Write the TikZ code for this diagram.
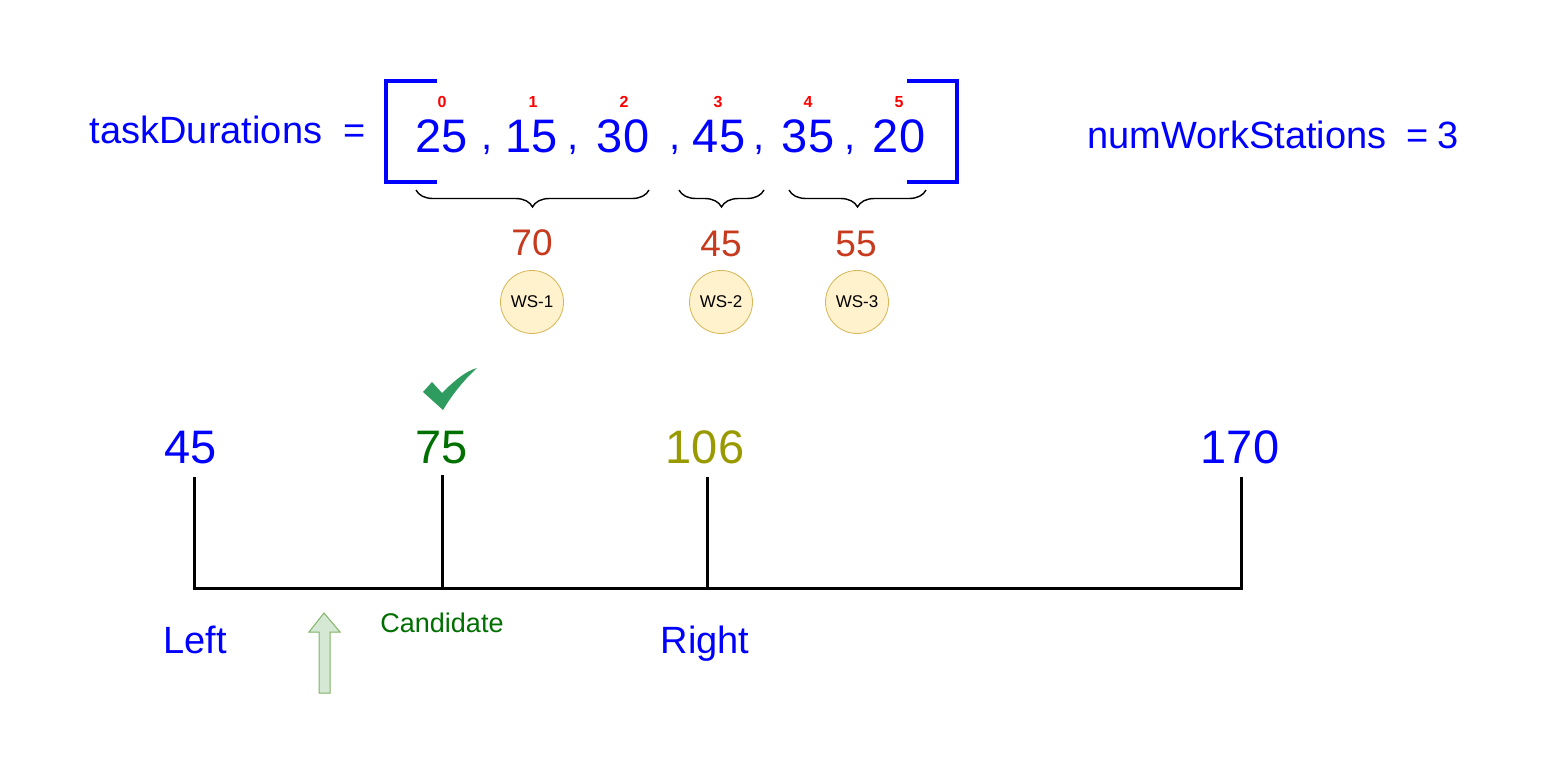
\documentclass[tikz,border=0pt]{standalone}
\usepackage{fontspec}
\setmainfont{Liberation Sans}
\usetikzlibrary{decorations.pathreplacing}
\definecolor{myblue}{HTML}{0000FF}
\definecolor{sumred}{HTML}{C73A1E}
\definecolor{candgreen}{HTML}{007000}
\definecolor{olive}{HTML}{999900}
\definecolor{checkgreen}{HTML}{2E9B5F}
\definecolor{wsfill}{HTML}{FFF2CC}
\definecolor{wsdraw}{HTML}{D6B656}
\definecolor{arrfill}{HTML}{D5E8D4}
\definecolor{arrdraw}{HTML}{82B366}
\tikzset{
  lbl/.style={inner sep=0pt, anchor=base, text=myblue, font=\fontsize{38}{42}\selectfont},
  bignum/.style={inner sep=0pt, anchor=base, text=myblue, font=\fontsize{47}{50}\selectfont},
  commatxt/.style={inner sep=0pt, anchor=base, text=myblue, font=\fontsize{40}{44}\selectfont},
  idx/.style={inner sep=0pt, anchor=base, text=red, font=\fontsize{16}{18}\selectfont\bfseries},
  sumtxt/.style={inner sep=0pt, anchor=base, text=sumred, font=\fontsize{37}{40}\selectfont},
  wscircle/.style={circle, draw=wsdraw, fill=wsfill, line width=0.8pt, minimum size=63pt, inner sep=0pt, font=\fontsize{17}{19}\selectfont},
  bracketline/.style={draw=myblue, line width=4pt},
  bracestyle/.style={draw=black, line width=1.4pt, decorate, decoration={brace, mirror, amplitude=17pt}},
  treeline/.style={draw=black, line width=3pt},
}
\begin{document}
\begin{tikzpicture}[x=1pt, y=-1pt]
\useasboundingbox (0,0) rectangle (1542,770);
\fill[white] (0,0) rectangle (1542,770);

% top line
\node[lbl] (td) at (206,144) {taskDurations};
\node[lbl] (eq1) at (355,144) {=};
\node[lbl, anchor=base west] (nws) at (1087,149) {numWorkStations};
\node[lbl] (eq2) at (1418,149) {=};
\node[lbl] (nws3) at (1448,149) {3};

% brackets
\draw[bracketline] (437,81) -- (386,81) -- (386,182) -- (437,182);
\draw[bracketline] (907,81) -- (957,81) -- (957,182) -- (907,182);

% digits
\node[bignum] (d0) at (442,153) {25};
\node[bignum] (d1) at (532,153) {15};
\node[bignum] (d2) at (623,153) {30};
\node[bignum] (d3) at (719,153) {45};
\node[bignum] (d4) at (808,153) {35};
\node[bignum] (d5) at (899,153) {20};
\node[commatxt] (c1) at (487,150) {,};
\node[commatxt] (c2) at (573,150) {,};
\node[commatxt] (c3) at (675,150) {,};
\node[commatxt] (c4) at (759,150) {,};
\node[commatxt] (c5) at (850,150) {,};
% indices
\node[idx] (i0) at (442,108) {0};
\node[idx] (i1) at (533,108) {1};
\node[idx] (i2) at (624,108) {2};
\node[idx] (i3) at (718,108) {3};
\node[idx] (i4) at (808,108) {4};
\node[idx] (i5) at (899,108) {5};

% braces
\coordinate (b1l) at (416,190); \coordinate (b1r) at (649,190);
\coordinate (b2l) at (679,190); \coordinate (b2r) at (764,190);
\coordinate (b3l) at (789,190); \coordinate (b3r) at (926,190);
\draw[bracestyle] (b1l) -- (b1r);
\draw[bracestyle] (b2l) -- (b2r);
\draw[bracestyle] (b3l) -- (b3r);

% sums
\node[sumtxt] (s1) at (532,255) {70};
\node[sumtxt] (s2) at (721,256) {45};
\node[sumtxt] (s3) at (856,256) {55};

% work stations
\node[wscircle] (ws1) at (532,302) {WS-1};
\node[wscircle] (ws2) at (721,302) {WS-2};
\node[wscircle] (ws3) at (857,302) {WS-3};

% check mark
\fill[checkgreen] (423,392) -- (432,382) -- (442,393) .. controls (455,380) and (466,371) .. (477,368) .. controls (466,378) and (453,393) .. (443,410) -- cycle;

% number line labels
\node[bignum] (n45) at (191,463) {45};
\node[bignum, text=candgreen] (n75) at (442,463) {75};
\node[bignum, text=olive] (n106) at (705,463) {106};
\node[bignum] (n170) at (1240,463) {170};

% tree lines
\coordinate (t45) at (194,477); \coordinate (f45) at (194,588);
\coordinate (t75) at (442,475); \coordinate (f75) at (442,588);
\coordinate (t106) at (707,477); \coordinate (f106) at (707,588);
\coordinate (t170) at (1241,477); \coordinate (f170) at (1241,588);
\draw[treeline] (t45) -- (f45) -- (f170) -- (t170);
\draw[treeline] (t75) -- (f75);
\draw[treeline] (t106) -- (f106);

% bottom labels
\node[lbl] (left) at (195,653) {Left};
\node[lbl] (right) at (705,653) {Right};
\node[inner sep=0pt, anchor=base, text=candgreen, font=\fontsize{27}{29}\selectfont] (cand) at (442,632) {Candidate};

% block arrow
\filldraw[fill=arrfill, draw=arrdraw, line width=1pt] (319,693) -- (319,632) -- (309,632) -- (324,613) -- (340,632) -- (330,632) -- (330,693) -- cycle;
\end{tikzpicture}
\end{document}
